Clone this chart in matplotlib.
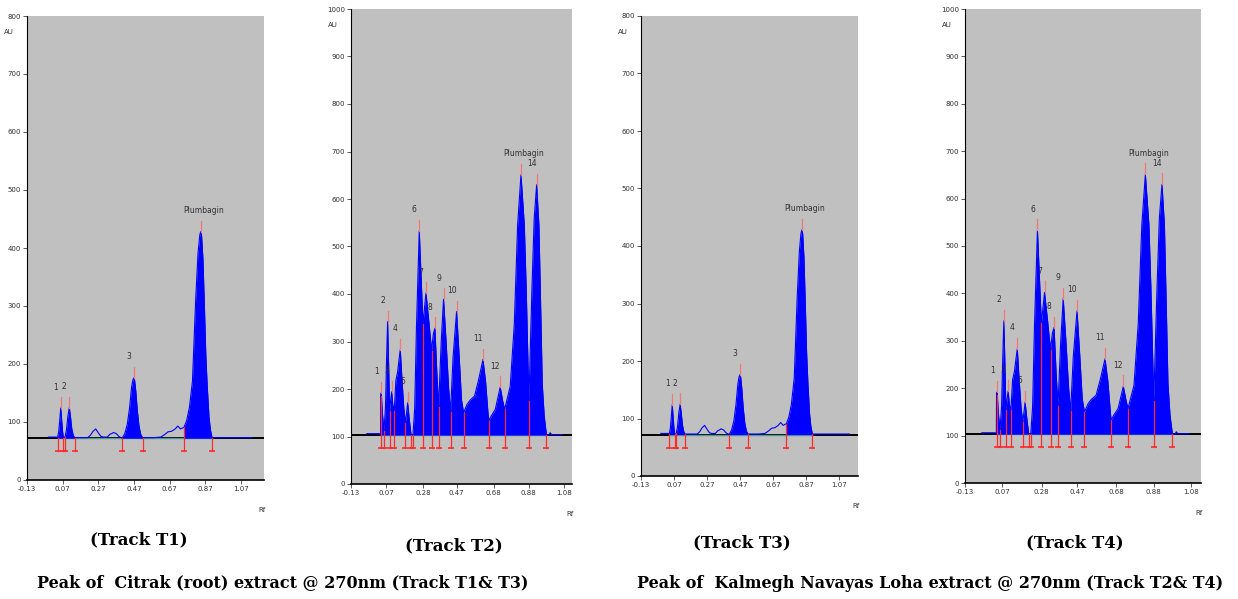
import numpy as np
import matplotlib
matplotlib.use("Agg")
import matplotlib.pyplot as plt

# --- Citrak (root) extract, tracks T1 & T3 ---
citrak_rf = [-0.01, 0.035, 0.041, 0.048, 0.054, 0.059, 0.064, 0.069, 0.074,
             0.083, 0.091, 0.099, 0.107, 0.114, 0.121, 0.129, 0.137,
             0.21, 0.225, 0.24, 0.255, 0.27, 0.285, 0.30, 0.32, 0.335, 0.345,
             0.355, 0.37, 0.385, 0.403, 0.418, 0.432, 0.445, 0.456, 0.463, 0.468,
             0.473, 0.48, 0.488, 0.498, 0.508, 0.518, 0.58, 0.62, 0.64, 0.66, 0.68,
             0.70, 0.715, 0.73, 0.75, 0.765, 0.78, 0.797, 0.815, 0.828, 0.838, 0.843,
             0.848, 0.856, 0.864, 0.872, 0.88, 0.89, 0.898, 0.907, 1.13]
citrak_au = [74, 74, 73, 84, 105, 124, 104, 84, 73,
             74, 86, 110, 125, 108, 88, 77, 73,
             73, 77, 84, 88, 81, 75, 74, 74, 79, 80,
             82, 80, 75, 72, 80, 96, 125, 160, 172, 176,
             172, 152, 120, 92, 78, 73, 73, 74, 78, 83, 84,
             88, 93, 88, 91, 103, 125, 170, 310, 390, 422, 428,
             422, 380, 300, 215, 161, 108, 86, 73, 73]
citrak_base = 72
citrak_bounds = [0.041, 0.074, 0.083, 0.137, 0.403, 0.518, 0.750, 0.907]
citrak_segments = [(0.041, 0.074), (0.083, 0.137), (0.403, 0.518), (0.750, 0.907)]
citrak_peaks = [0.059, 0.107, 0.468, 0.843]
citrak_labels = ["1", "2", "3", "Plumbagin"]

# --- Kalmegh Navayas Loha extract, tracks T2 & T4 ---
kalmegh_rf = [-0.04, 0.032, 0.038, 0.039, 0.042, 0.048, 0.0575, 0.066, 0.072,
              0.078, 0.085, 0.089, 0.095, 0.101, 0.108, 0.116, 0.125, 0.135,
              0.143, 0.150, 0.160, 0.170, 0.179, 0.186, 0.192, 0.200, 0.211,
              0.222, 0.232, 0.242, 0.258, 0.27, 0.279, 0.296, 0.31, 0.328,
              0.338, 0.347, 0.358, 0.368, 0.383, 0.396, 0.41, 0.425, 0.436,
              0.45, 0.470, 0.485, 0.498, 0.510, 0.53, 0.548, 0.572, 0.595,
              0.620, 0.635, 0.652, 0.67, 0.690, 0.718, 0.732, 0.743, 0.775,
              0.798, 0.817, 0.836, 0.855, 0.866, 0.881, 0.898, 0.911, 0.925,
              0.938, 0.950, 0.957, 0.968, 0.981, 0.995, 1.002, 1.01, 1.069]
kalmegh_au = [106, 106, 103, 186, 192, 150, 112, 163, 260,
              342, 232, 154, 175, 194, 165, 154, 218, 236,
              262, 283, 218, 160, 129, 150, 171, 140, 104,
              103, 160, 330, 533, 420, 337, 402, 351, 281,
              316, 328, 232, 163, 302, 389, 302, 200, 152,
              267, 363, 267, 177, 150, 168, 177, 185, 219,
              262, 215, 133, 145, 157, 204, 175, 157, 206,
              337, 545, 651, 545, 407, 174, 407, 559, 630,
              545, 337, 210, 143, 103, 103, 108, 104, 104]
kalmegh_base = 103
kalmegh_bounds = [0.039, 0.0575, 0.089, 0.116, 0.179, 0.211, 0.222, 0.279,
                  0.328, 0.368, 0.436, 0.510, 0.652, 0.743, 0.881, 0.981]
kalmegh_segments = [(0.038, 0.981)]
kalmegh_peaks = [0.042, 0.078, 0.101, 0.150, 0.192, 0.258, 0.296, 0.347,
                 0.396, 0.470, 0.620, 0.718, 0.836, 0.925]
kalmegh_labels = ["1", "2", "3", "4", "5", "6", "7", "8", "9", "10", "11",
                  "12", "Plumbagin", "14"]

ticks_t13 = [-0.13, 0.07, 0.27, 0.47, 0.67, 0.87, 1.07]
ticks_t24 = [-0.13, 0.07, 0.28, 0.47, 0.68, 0.88, 1.08]

W, H = 1238, 599
SMALL = ["Liberation Sans Narrow", "DejaVu Sans"]
SERIF = ["DejaVu Serif"]

fig = plt.figure(figsize=(W / 100, H / 100), dpi=100)


def draw_track(box, rf, au, base, bounds, segments, peaks, labels, ymax, xmax, xticks):
    l, t, r, b = box
    ax = fig.add_axes([l / W, 1 - b / H, (r - l) / W, (b - t) / H])
    rf = np.array(rf)
    au = np.array(au, dtype=float)
    au_px = ymax / (b - t)           # AU per pixel
    rf_px = (xmax + 0.13) / (r - l)  # Rf per pixel

    ax.set_facecolor("#c0c0c0")
    ax.axhline(base, color="black", lw=1.4, zorder=1)
    ax.plot([bounds[0], bounds[-1]], [base, base], color="#4f9a94", lw=1.0, zorder=2)
    ax.plot(rf, au, color="#0000ff", lw=0.8, zorder=3)
    for a, c in segments:
        m = (rf >= a - 1e-9) & (rf <= c + 1e-9)
        ax.fill_between(rf[m], base, au[m], color="#0000ff", lw=0, zorder=3)

    # peak start / end markers
    bottom = base - 13 * au_px
    for x in bounds:
        top = np.interp(x, rf, au)
        ax.plot([x, x], [bottom, top], color="#ff2a2a", lw=0.9, zorder=4)
        ax.plot(x, bottom, marker="_", ms=4, mew=1.2, color="#ff2a2a", zorder=4)

    # peak maxima and labels
    for p, lab in zip(peaks, labels):
        top = np.interp(p, rf, au)
        ax.plot([p, p], [top, top + 11 * au_px], color="#f07878", lw=0.9, zorder=4)
        dx = 3 if lab == "Plumbagin" else -5
        ax.text(p + dx * rf_px, top + 21 * au_px, lab, ha="center", va="center",
                fontsize=5.5, family=SMALL, color="#303030", zorder=5)

    ax.set_xlim(-0.13, xmax)
    ax.set_ylim(0, ymax)
    ax.set_yticks(range(0, ymax + 1, 100))
    ax.set_xticks(xticks)
    ax.set_xticklabels([f"{v:.2f}" for v in xticks])
    for lab in ax.get_xticklabels() + ax.get_yticklabels():
        lab.set_family(SMALL)
    ax.tick_params(labelsize=5, length=3, width=0.6, color="#404040", pad=1.5,
                   labelcolor="#303030")
    for s in ["top", "right"]:
        ax.spines[s].set_visible(False)
    ax.spines["left"].set_linewidth(0.8)
    ax.spines["bottom"].set_linewidth(1.2)

    fig.text((l - 18) / W, 1 - (t + 16) / H, "AU", fontsize=5, family=SMALL,
             ha="center", va="center", color="#303030")
    fig.text((r - 2) / W, 1 - (b + 30) / H, "Rf", fontsize=5, family=SMALL,
             ha="center", va="center", color="#303030")
    return ax


draw_track((27, 16, 264, 480), citrak_rf, citrak_au, citrak_base, citrak_bounds,
           citrak_segments, citrak_peaks, citrak_labels, 800, 1.198, ticks_t13)
draw_track((351, 9, 572, 484), kalmegh_rf, kalmegh_au, kalmegh_base, kalmegh_bounds,
           kalmegh_segments, kalmegh_peaks, kalmegh_labels, 1000, 1.126, ticks_t24)
draw_track((641, 16, 858, 476), citrak_rf, citrak_au, citrak_base, citrak_bounds,
           citrak_segments, citrak_peaks, citrak_labels, 800, 1.183, ticks_t13)
draw_track((965, 9, 1201, 483), kalmegh_rf, kalmegh_au, kalmegh_base, kalmegh_bounds,
           kalmegh_segments, kalmegh_peaks, kalmegh_labels, 1000, 1.134, ticks_t24)

# track titles and captions
for txt, x, y in [("(Track T1)", 139, 540), ("(Track T2)", 454, 546),
                  ("(Track T3)", 742, 543), ("(Track T4)", 1075, 543)]:
    fig.text(x / W, 1 - y / H, txt, ha="center", va="center", fontsize=12,
             fontweight="bold", family=SERIF)
fig.text(283 / W, 1 - 583 / H, "Peak of  Citrak (root) extract @ 270nm (Track T1& T3)",
         ha="center", va="center", fontsize=11.5, fontweight="bold", family=SERIF)
fig.text(930 / W, 1 - 583 / H, "Peak of  Kalmegh Navayas Loha extract @ 270nm (Track T2& T4)",
         ha="center", va="center", fontsize=11.5, fontweight="bold", family=SERIF)

fig.savefig("out.png", dpi=100, facecolor="white")
